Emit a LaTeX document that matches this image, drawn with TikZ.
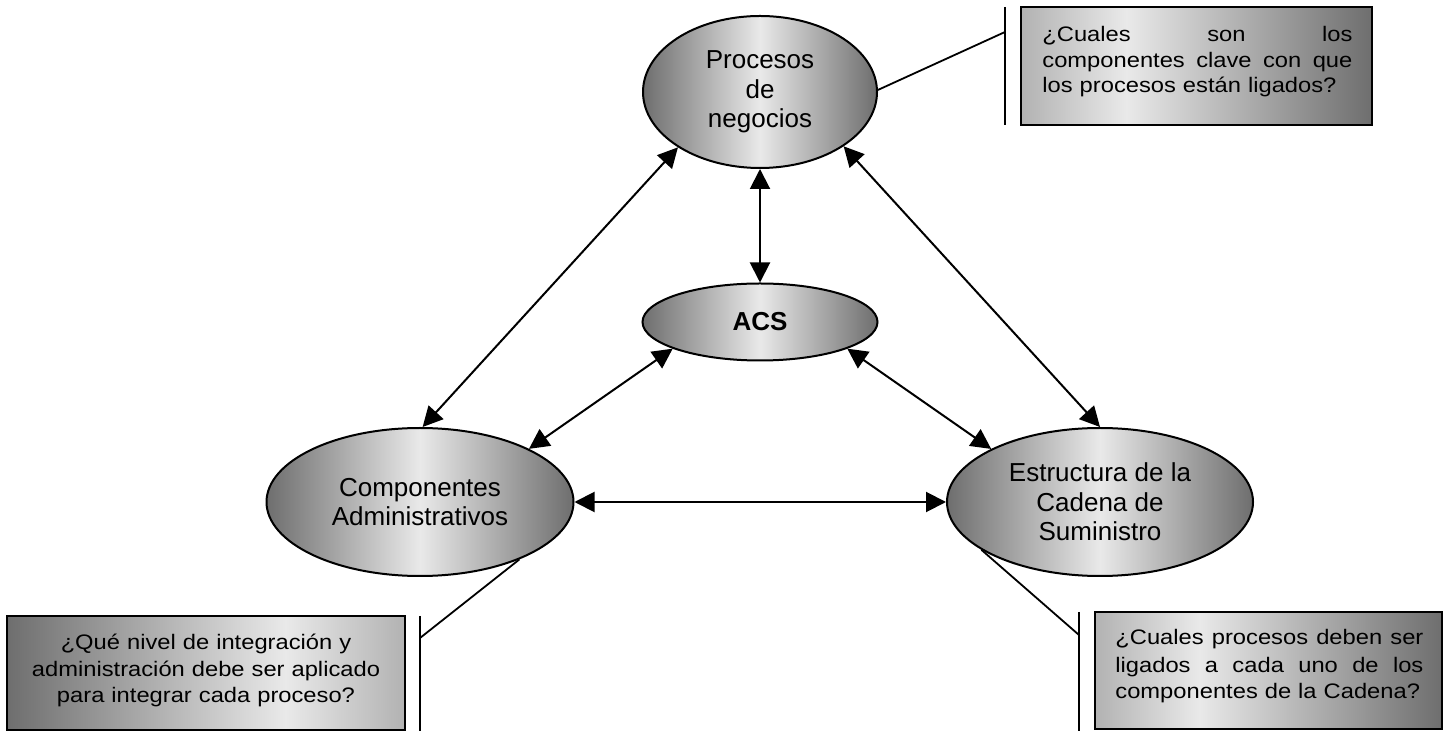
\documentclass[tikz,border=0pt]{standalone}
\usepackage{fontspec}
\setmainfont{Liberation Sans}
\newfontfamily\cajafont{Liberation Sans}[FakeStretch=1.13]
\usepackage{xcolor}
\usepackage{tikz}
\usetikzlibrary{shapes.geometric,arrows.meta}

\definecolor{grisosc}{HTML}{6E6E6E}
\definecolor{grismed}{HTML}{B2B2B2}
\definecolor{grisclaro}{HTML}{E9E9E9}

\pgfdeclarehorizontalshading{sombraovalo}{100bp}{color(0bp)=(grisosc); color(25bp)=(grisosc); color(50bp)=(grisclaro); color(75bp)=(grisosc); color(100bp)=(grisosc)}
\pgfdeclarehorizontalshading{sombrader}{100bp}{color(0bp)=(grismed); color(25bp)=(grismed); color(40bp)=(grisclaro); color(75bp)=(grisosc); color(100bp)=(grisosc)}
\pgfdeclarehorizontalshading{sombraizq}{100bp}{color(0bp)=(grisosc); color(25bp)=(grisosc); color(60bp)=(grisclaro); color(75bp)=(grismed); color(100bp)=(grismed)}

\begin{document}
\begin{tikzpicture}[x=0.5pt, y=-0.5pt,
  ovalo/.style={ellipse, draw, line width=1pt, shade, shading=sombraovalo, inner sep=0pt, align=center, font=\fontsize{13}{14.75}\selectfont},
  flecha/.style={{Triangle[length=10pt,width=10pt]}-{Triangle[length=10pt,width=10pt]}, line width=1pt},
  caja/.style={rectangle, draw, line width=1pt, shade, inner sep=0pt},
  pregunta/.style={inner sep=0pt, font=\cajafont\fontsize{10.5}{13.5}\selectfont},
  guia/.style={line width=0.9pt},
  barra/.style={line width=1pt}]
\useasboundingbox (0,0) rectangle (1451,731);

\node[ovalo, minimum width=117pt, minimum height=76pt] (proc) at (760,92) {Procesos\\de\\negocios};
\node[ovalo, minimum width=117.5pt, minimum height=38.5pt, font=\fontsize{13}{14.75}\selectfont\bfseries] (acs) at (760,322) {ACS};
\node[ovalo, minimum width=153.5pt, minimum height=74pt] (comp) at (420,502) {Componentes\\Administrativos};
\node[ovalo, minimum width=153pt, minimum height=74pt] (estr) at (1100,502) {Estructura de la\\Cadena de\\Suministro};

\draw[flecha] (proc.214) -- (comp.88);
\draw[flecha] (proc.327) -- (estr.90);
\draw[flecha] (proc.south) -- (acs.north);
\draw[flecha] (acs.197) -- (comp.26);
\draw[flecha] (acs.343) -- (estr.154);
\draw[flecha] (comp.east) -- (estr.west);

\node[caja, shading=sombrader, minimum width=175.5pt, minimum height=59pt] (cajaP) at (1196.5,66) {};
\node[pregunta, font=\cajafont\fontsize{10.5}{12.75}\selectfont, text width=155pt, align=left, anchor=base west] (textoP) at (1042,42)
  {\leavevmode\hbox to 155pt{¿Cuales\hfill son\hfill los}\\\leavevmode\hbox to 155pt{componentes\hfill clave\hfill con\hfill que}\\los procesos están ligados?};
\coordinate (barP1) at (1005,7);
\coordinate (barP2) at (1005,125);
\coordinate (puntoP) at (1005,32);
\draw[barra] (barP1) -- (barP2);
\draw[guia] (proc.1) -- (puntoP);

\node[caja, shading=sombraizq, minimum width=199pt, minimum height=57pt] (cajaC) at (206,673) {};
\node[pregunta, text width=195pt, align=center, anchor=base] (textoC) at (206,649)
  {¿Qué nivel de integración y\\administración debe ser aplicado\\para integrar cada proceso?};
\coordinate (barC1) at (420,616);
\coordinate (barC2) at (420,731);
\coordinate (puntoC) at (420,638);
\draw[barra] (barC1) -- (barC2);
\draw[guia] (comp.330) -- (puntoC);

\node[caja, shading=sombrader, minimum width=173.5pt, minimum height=58.5pt] (cajaE) at (1268.5,670.5) {};
\node[pregunta, text width=154pt, align=left, anchor=base west] (textoE) at (1115,645)
  {\leavevmode\hbox to 154pt{¿Cuales\hfill procesos\hfill deben\hfill ser}\\\leavevmode\hbox to 154pt{ligados\hfill a\hfill cada\hfill uno\hfill de\hfill los}\\componentes de la Cadena?};
\coordinate (barE1) at (1079,612);
\coordinate (barE2) at (1079,731);
\coordinate (puntoE) at (1079,635);
\draw[barra] (barE1) -- (barE2);
\draw[guia] (estr.202) -- (puntoE);
\end{tikzpicture}
\end{document}
